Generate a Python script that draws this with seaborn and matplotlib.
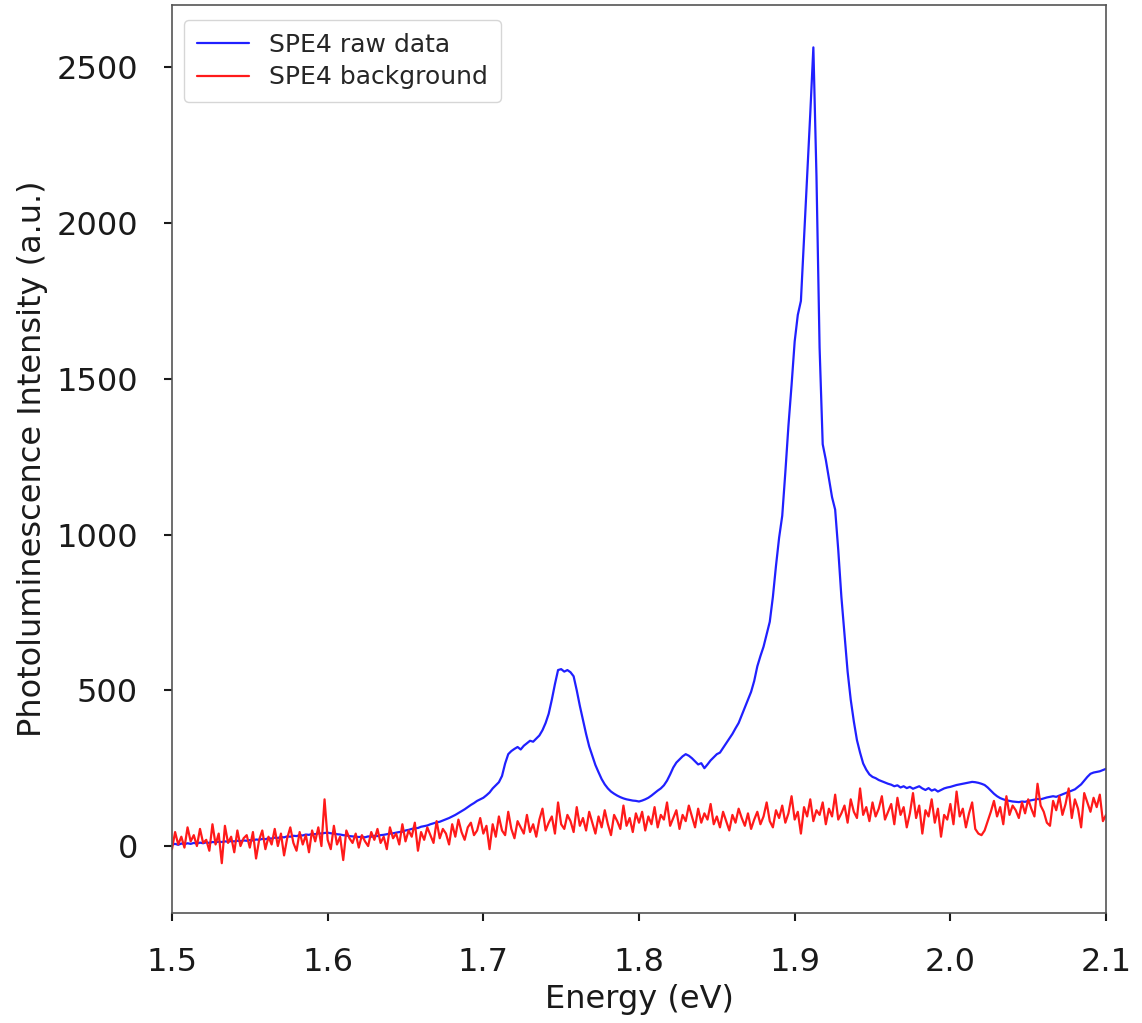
import numpy as np
import pandas as pd
import matplotlib
matplotlib.use("Agg")
import matplotlib.pyplot as plt
import seaborn as sns

# SPE4 raw data (a.u.), sampled 1.500 .. 2.100 eV, step 0.002 eV
raw_data = [
    5, 7, 4, 8, 6, 9, 7, 10, 8, 11, 9, 12, 10, 13, 12, 14, 13, 15, 14, 16, 15, 17, 16, 18, 17,
    19, 18, 21, 20, 23, 22, 25, 24, 27, 26, 29, 28, 31, 30, 33, 32, 35, 34, 37, 36, 39, 38, 41, 40, 42,
    43, 41, 40, 38, 37, 35, 34, 32, 31, 30, 29, 30, 28, 31, 30, 33, 32, 35, 36, 38, 40, 41, 43, 45, 46,
    50, 52, 55, 57, 58, 62, 64, 66, 70, 73, 76, 78, 82, 86, 90, 95, 100, 106, 112, 118, 125, 132, 138, 145, 150,
    155, 163, 172, 185, 195, 205, 225, 265, 295, 305, 312, 318, 310, 322, 330, 338, 335, 345, 355, 372, 395, 425, 470, 520, 565,
    568, 560, 565, 558, 545, 500, 450, 405, 360, 320, 290, 260, 237, 215, 198, 185, 175, 168, 162, 157, 153, 150, 148, 146, 145,
    143, 146, 150, 155, 162, 170, 178, 185, 195, 210, 230, 252, 268, 278, 288, 295, 290, 282, 272, 262, 266, 250, 262, 275, 285,
    295, 300, 315, 330, 345, 360, 378, 395, 420, 445, 470, 495, 530, 577, 610, 640, 680, 720, 800, 900, 990, 1060, 1200, 1350, 1480,
    1620, 1705, 1750, 1950, 2150, 2350, 2564, 2150, 1600, 1290, 1240, 1180, 1120, 1080, 950, 800, 680, 560, 470, 400, 340, 300, 265, 245, 230,
    222, 218, 212, 208, 204, 200, 197, 192, 195, 188, 192, 186, 190, 184, 188, 192, 185, 180, 186, 178, 182, 175, 180, 185, 188,
    190, 193, 196, 198, 200, 202, 204, 206, 205, 203, 200, 196, 188, 178, 168, 160, 154, 150, 147, 145, 143, 142, 141, 143, 142,
    145, 147, 149, 151, 150, 153, 156, 158, 160, 158, 162, 166, 170, 174, 178, 182, 190, 198, 210, 222, 232, 236, 238, 240, 244,
    248,
]

# SPE4 background (a.u.), same sampling
background = [
    -10, 45, 5, 30, -5, 60, 15, 35, 0, 55, 10, 20, -15, 70, 5, 40, -55, 65, 10, 30, -20, 50, 0, 25, 35,
    -5, 45, -40, 20, 50, -10, 30, 5, 55, 0, 40, -30, 25, 60, 10, -15, 45, 5, 35, -20, 50, 15, 60, 0, 150,
    20, -10, 65, 5, 30, -45, 50, 25, 10, 40, -5, 35, 15, 0, 45, 20, 55, 10, 30, -10, 60, 25, 40, 5, 70,
    15, 50, 30, 75, -15, 45, 20, 60, 35, 10, 80, 25, 55, 40, 5, 70, 30, 85, 45, 20, 60, 75, 35, 50, 90,
    40, 65, -10, 70, 30, 95, 50, 35, 110, 55, 25, 80, 60, 40, 100, 45, 70, 30, 85, 120, 50, 75, 95, 40, 140,
    70, 55, 100, 80, 45, 125, 65, 90, 50, 110, 75, 40, 95, 60, 115, 70, 35, 100, 80, 55, 130, 65, 90, 45, 105,
    75, 110, 50, 95, 70, 125, 60, 100, 85, 140, 65, 90, 115, 55, 100, 80, 130, 95, 60, 120, 75, 105, 85, 135, 70,
    95, 60, 110, 80, 50, 100, 75, 120, 90, 65, 105, 55, 85, 110, 70, 95, 140, 80, 60, 115, 90, 130, 75, 105, 160,
    85, 110, 40, 125, 95, 150, 80, 115, 100, 140, 70, 120, 95, 165, 85, 105, 130, 75, 150, 110, 90, 185, 100, 125, 80,
    140, 95, 120, 160, 85, 110, 135, 70, 155, 100, 125, 60, 105, 170, 90, 130, 40, 115, 95, 150, 75, 120, 30, 100, 85,
    135, 70, 175, 95, 120, 60, 105, 140, 55, 40, 35, 50, 80, 110, 145, 95, 125, 70, 160, 100, 130, 115, 90, 140, 105,
    150, 120, 95, 200, 130, 110, 75, 65, 145, 115, 160, 100, 135, 185, 90, 150, 120, 60, 170, 140, 110, 155, 125, 165, 80,
    100,
]

energy_start, energy_stop = 1.5, 2.1
series_labels = ["SPE4 raw data", "SPE4 background"]
x_ticks = [1.5, 1.6, 1.7, 1.8, 1.9, 2.0, 2.1]
y_ticks = [0, 500, 1000, 1500, 2000, 2500]

energy_raw = np.linspace(energy_start, energy_stop, len(raw_data))
energy_bg = np.linspace(energy_start, energy_stop, len(background))

df = pd.concat([
    pd.DataFrame({"Energy": energy_raw, "Intensity": raw_data, "Series": series_labels[0]}),
    pd.DataFrame({"Energy": energy_bg, "Intensity": background, "Series": series_labels[1]}),
], ignore_index=True)

sns.set_style("ticks")
plt.rcParams['font.family'] = ['DejaVu Sans']

fig = plt.figure(figsize=(11.42, 10.23), dpi=100)
ax = fig.add_axes([0.1506, 0.1075, 0.8179, 0.8876])

sns.lineplot(data=df, x="Energy", y="Intensity", hue="Series",
             palette={series_labels[0]: "#2020ff", series_labels[1]: "#ff1a1a"},
             linewidth=1.6, ax=ax, sort=False, estimator=None)

ax.set_xlim(energy_start, energy_stop)
ax.set_ylim(-215, 2700)
ax.set_xticks(x_ticks)
ax.set_xticklabels([f"{t:.1f}" for t in x_ticks])
ax.set_yticks(y_ticks)
ax.tick_params(axis="both", labelsize=23, length=5.5, width=1.5, direction="out",
               pad=19, colors="#1a1a1a", top=False, right=False)
for s in ax.spines.values():
    s.set_visible(True)
    s.set_color("#555555")
    s.set_linewidth(1.2)

ax.set_xlabel("Energy (eV)", fontsize=23, color="#1a1a1a", labelpad=4)
ax.set_ylabel("Photoluminescence Intensity (a.u.)", fontsize=23, color="#1a1a1a", labelpad=6)

leg = ax.legend(loc="upper left", fontsize=18, frameon=True, title=None,
                handlelength=2.1, borderpad=0.5, labelspacing=0.35,
                bbox_to_anchor=(0.0, 0.997))
leg.get_frame().set_edgecolor("#cccccc")

fig.savefig("out.png", dpi=100)
